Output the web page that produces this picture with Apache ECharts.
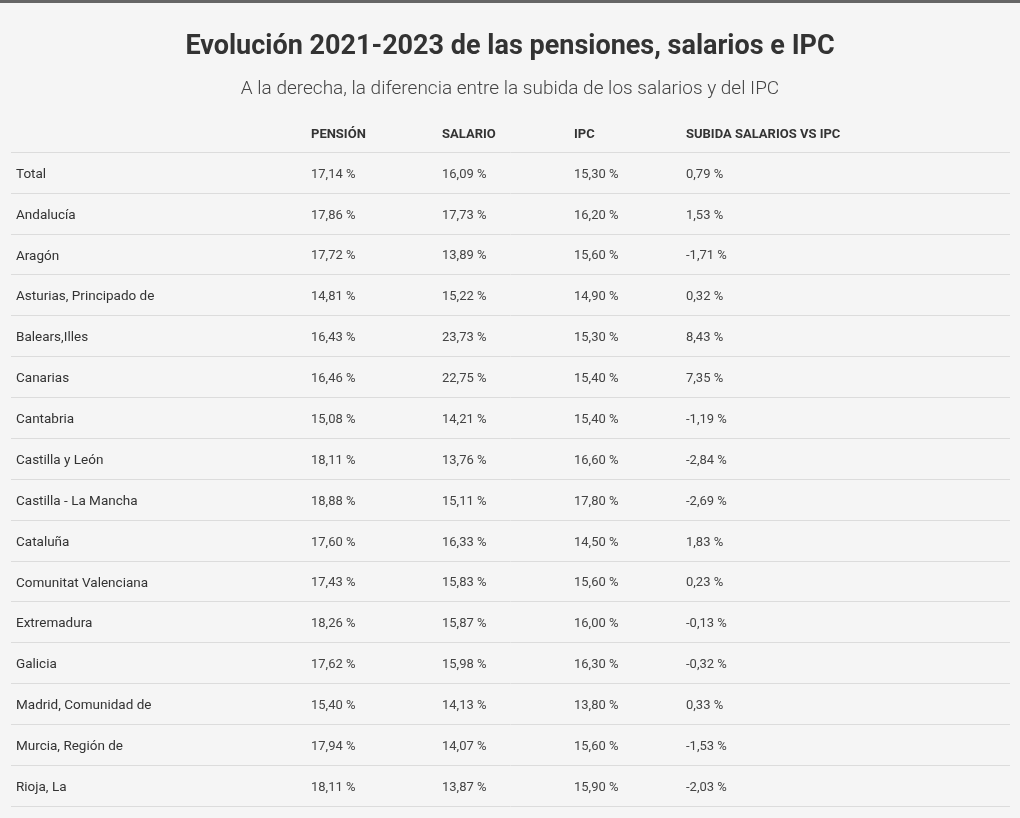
<!DOCTYPE html>
<html>
<head>
<meta charset="utf-8">
<script src="https://cdn.jsdelivr.net/npm/echarts@6/dist/echarts.min.js"></script>
<style>
html,body{margin:0;padding:0;background:#f5f5f5;}
#chart{width:1020px;height:818px;}
</style>
</head>
<body>
<div id="chart"></div>
<script>
const rows = ["Total","Andalucía","Aragón","Asturias, Principado de","Balears,Illes","Canarias","Cantabria","Castilla y León","Castilla - La Mancha","Cataluña","Comunitat Valenciana","Extremadura","Galicia","Madrid, Comunidad de","Murcia, Región de","Rioja, La"];
const pension = [17.14,17.86,17.72,14.81,16.43,16.46,15.08,18.11,18.88,17.60,17.43,18.26,17.62,15.40,17.94,18.11];
const salario = [16.09,17.73,13.89,15.22,23.73,22.75,14.21,13.76,15.11,16.33,15.83,15.87,15.98,14.13,14.07,13.87];
const ipc = [15.30,16.20,15.60,14.90,15.30,15.40,15.40,16.60,17.80,14.50,15.60,16.00,16.30,13.80,15.60,15.90];
const diff = [0.79,1.53,-1.71,0.32,8.43,7.35,-1.19,-2.84,-2.69,1.83,0.23,-0.13,-0.32,0.33,-1.53,-2.03];
const headers = ["", "PENSIÓN", "SALARIO", "IPC", "SUBIDA SALARIOS VS IPC"];

const colX = [5, 300, 431, 563, 675];
const FONT = 'Roboto, "Noto Sans", sans-serif';
const fmt = v => v.toFixed(2).replace('.', ',') + ' %';

const chart = echarts.init(document.getElementById('chart'));
chart.setOption({
  backgroundColor: '#f5f5f5',
  animation: false,
  graphic: [{type:'rect', shape:{x:0,y:0,width:1020,height:3}, style:{fill:'#666'}}],
  title: {
    left: 'center', top: 29,
    text: 'Evolución 2021-2023 de las pensiones, salarios e IPC',
    subtext: 'A la derecha, la diferencia entre la subida de los salarios y del IPC',
    itemGap: 19,
    textStyle: {fontFamily: FONT, fontSize: 27, fontWeight: 'bold', color: '#333'},
    subtextStyle: {fontFamily: FONT, fontSize: 19, fontWeight: 300, color: '#444'}
  },
  grid: {left: 11, right: 10, top: 152, bottom: 12},
  xAxis: {type: 'value', min: 0, max: 999, show: false},
  yAxis: {
    type: 'category', inverse: true, data: rows,
    axisLine: {show: false}, axisTick: {show: false}, axisLabel: {show: false},
    splitLine: {show: true, lineStyle: {color: '#dcdcdc', width: 1}}
  },
  series: [{
    type: 'custom',
    clip: false,
    encode: {x: 1, y: 0},
    data: rows.map((r, i) => [i, pension[i], salario[i], ipc[i], diff[i]]),
    renderItem: function (params, api) {
      const i = api.value(0);
      const band = api.size([0, 1])[1];
      const vals = [rows[i], fmt(pension[i]), fmt(salario[i]), fmt(ipc[i]), fmt(diff[i])];
      const children = vals.map((t, c) => {
        const p = api.coord([colX[c], i]);
        return {type: 'text', x: p[0], y: p[1] + 2,
          style: {text: t, fill: c === 0 ? '#333' : '#444', fontSize: c === 0 ? 13.5 : 13, fontFamily: FONT, verticalAlign: 'middle', align: 'left'}};
      });
      if (i === 0) {
        headers.forEach((h, c) => {
          const p = api.coord([colX[c], i]);
          children.push({type: 'text', x: p[0], y: p[1] - band + 3,
            style: {text: h, fill: '#333', fontSize: 13, fontWeight: 'bold', fontFamily: FONT, verticalAlign: 'middle', align: 'left'}});
        });
      }
      return {type: 'group', children: children};
    }
  }]
});
</script>
</body>
</html>
